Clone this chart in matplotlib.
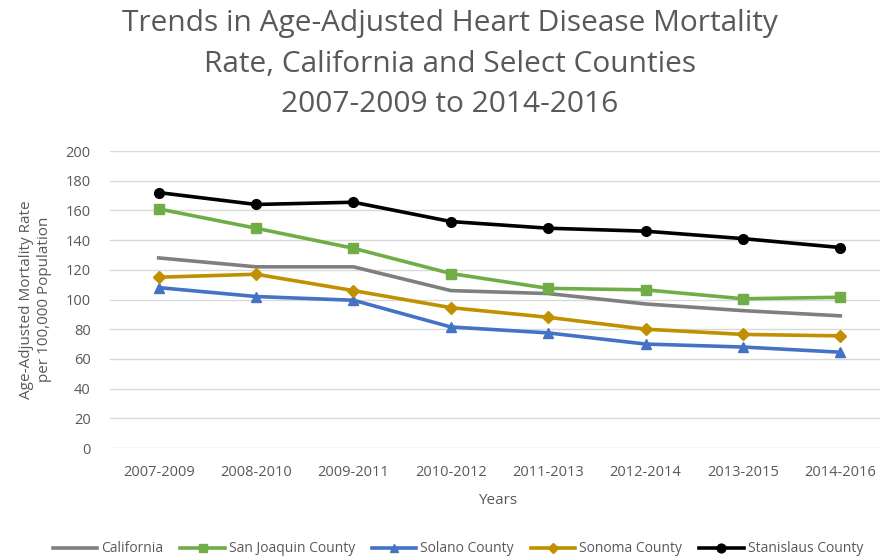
import matplotlib.pyplot as plt

plt.rcParams['font.family'] = ['Open Sans', 'DejaVu Sans']

years = ['2007-2009', '2008-2010', '2009-2011', '2010-2012',
         '2011-2013', '2012-2014', '2013-2015', '2014-2016']

california = [128, 122, 122, 106, 104, 97, 92.5, 89]
san_joaquin = [161, 148, 134.5, 117.5, 107.5, 106.5, 100.5, 101.5]
solano = [108, 102, 99.5, 81.5, 77.5, 70, 68, 64.5]
sonoma = [115, 117, 106, 94.5, 88, 80, 76.5, 75.5]
stanislaus = [172, 164, 165.5, 152.5, 148, 146, 141, 135]

series = [
    ('California', california, '#7f7f7f', None),
    ('San Joaquin County', san_joaquin, '#70ad47', 's'),
    ('Solano County', solano, '#4472c4', '^'),
    ('Sonoma County', sonoma, '#c09000', 'D'),
    ('Stanislaus County', stanislaus, '#000000', 'o'),
]

fig = plt.figure(figsize=(8.8, 5.58), dpi=100)
# plot area runs past the right edge, as in the cropped original
ax = fig.add_axes([110 / 880, 110 / 558, 779 / 880, 297 / 558])

x = list(range(len(years)))
for name, vals, color, marker in series:
    ms = 6 if marker == 'D' else 7
    ax.plot(x, vals, color=color, linewidth=2.6, marker=marker,
            markersize=ms, label=name, solid_joinstyle='round')

ax.set_xlim(-0.5, len(years) - 0.5)
ax.set_ylim(0, 200)
ax.set_yticks(range(0, 201, 20))
ax.set_xticks(x)
ax.set_xticklabels(years)
ax.tick_params(axis='both', length=0, labelsize=10.5, labelcolor='#595959')
ax.tick_params(axis='x', pad=12)
ax.tick_params(axis='y', pad=14)
ax.grid(axis='y', color='#d9d9d9', linewidth=1)
ax.set_axisbelow(True)
for s in ax.spines.values():
    s.set_visible(False)

ax.set_ylabel('Age-Adjusted Mortality Rate\nper 100,000 Population',
              fontsize=11, color='#595959', labelpad=10)
fig.text(498 / 880, 1 - 500 / 558, 'Years', fontsize=11, color='#595959',
         ha='center', va='center')

fig.text(450 / 880, 1 - 64 / 558,
         'Trends in Age-Adjusted Heart Disease Mortality\n'
         'Rate, California and Select Counties\n2007-2009 to 2014-2016',
         fontsize=21.5, color='#595959', ha='center', va='center',
         linespacing=1.5)

fig.legend(loc='center', bbox_to_anchor=(458 / 880, 1 - 549 / 558),
           ncol=5, frameon=False, fontsize=10, labelcolor='#595959',
           handlelength=3.2, handletextpad=0.3, columnspacing=1.2,
           markerscale=0.9)

fig.savefig('out.png', dpi=100)
